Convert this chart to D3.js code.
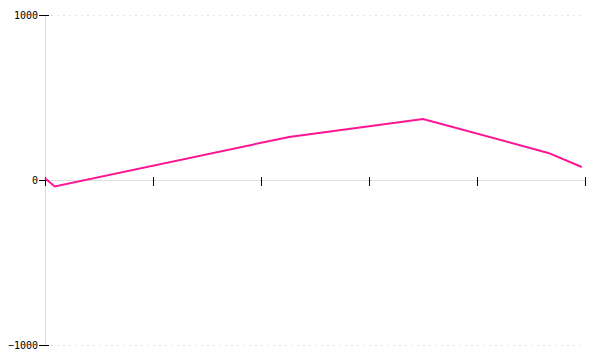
<!DOCTYPE html>
<html>
<head>
<meta charset="utf-8">
<script src="https://cdn.jsdelivr.net/npm/d3@7"></script>
<style>
  body { margin: 0; background: #fff; }
  svg { display: block; }
</style>
</head>
<body>
<svg id="chart" width="600" height="360"></svg>
<script>
// Data
const xValues = [0, 0.09, 2.26, 3.5, 4.66, 4.97];
const yValues = [10, -39, 261, 370, 164, 79];
const yTickValues = [-1000, 0, 1000];
const xTickValues = [0, 1, 2, 3, 4, 5];

const svg = d3.select("#chart");
const margin = { left: 45, right: 15, top: 15, bottom: 15 };
const W = 600, H = 360;

const x = d3.scaleLinear().domain([0, 5]).range([margin.left, W - margin.right]);
const y = d3.scaleLinear().domain([-1000, 1000]).range([H - margin.bottom, margin.top]);

// dotted grid lines at +/-1000
svg.append("g").selectAll("line")
  .data(yTickValues.filter(v => v !== 0))
  .join("line")
  .attr("x1", x(0)).attr("x2", x(5))
  .attr("y1", d => y(d) + 0.5).attr("y2", d => y(d) + 0.5)
  .attr("stroke", "#e3e3e3")
  .attr("stroke-width", 1)
  .attr("stroke-dasharray", "2,4");

// y axis line
svg.append("line")
  .attr("x1", x(0) + 0.5).attr("x2", x(0) + 0.5)
  .attr("y1", y(1000)).attr("y2", y(-1000))
  .attr("stroke", "#ddd");

// x axis line at zero
svg.append("line")
  .attr("x1", x(0)).attr("x2", x(5))
  .attr("y1", y(0) + 0.5).attr("y2", y(0) + 0.5)
  .attr("stroke", "#ddd");

// y axis ticks + labels
const yAxis = d3.axisLeft(y).tickValues(yTickValues).tickSize(6).tickPadding(1)
  .tickFormat(d => d3.format("d")(d).replace("-", "\u2212"));
const gy = svg.append("g").attr("transform", `translate(${x(0) + 4},0)`).call(yAxis);
gy.select(".domain").remove();
gy.selectAll(".tick line").attr("stroke", "#000").attr("x2", -10).attr("x1", 0);
gy.selectAll(".tick text")
  .attr("x", -11)
  .attr("font-family", "DejaVu Sans Mono, monospace")
  .attr("font-size", 10)
  .attr("fill", "#000");

// x axis ticks (no labels)
const xAxis = d3.axisBottom(x).tickValues(xTickValues).tickSize(6).tickFormat("");
const gx = svg.append("g").attr("transform", `translate(0,${y(0) - 3})`).call(xAxis);
gx.select(".domain").remove();
gx.selectAll(".tick line").attr("stroke", "#000").attr("y2", 9);

// line
const data = xValues.map((v, i) => ({ x: v, y: yValues[i] }));
svg.append("path")
  .datum(data)
  .attr("fill", "none")
  .attr("stroke", "#ff1493")
  .attr("stroke-width", 2)
  .attr("d", d3.line().x(d => x(d.x)).y(d => y(d.y)));
</script>
</body>
</html>
